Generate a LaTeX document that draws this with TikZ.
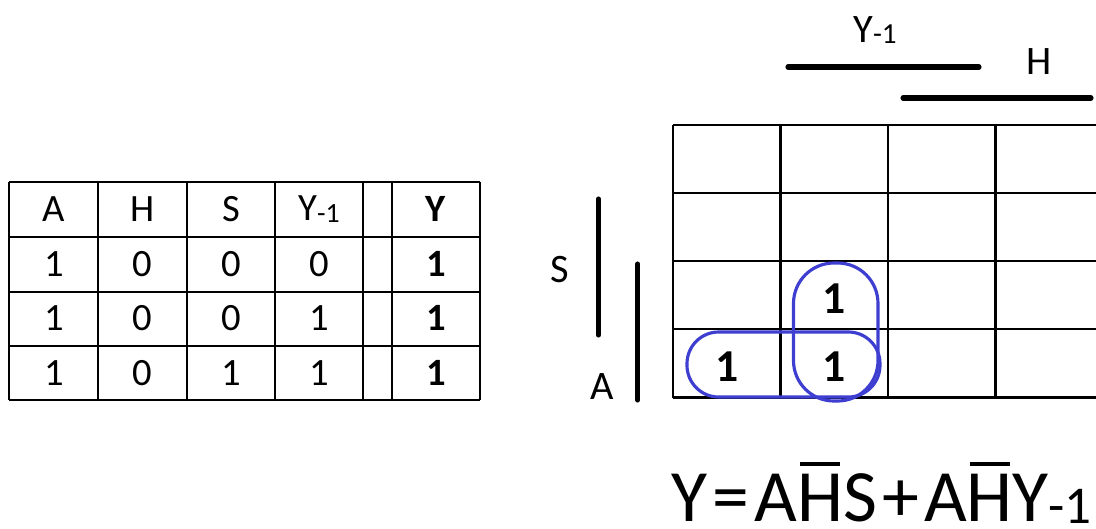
\documentclass[tikz,border=0pt]{standalone}
\usepackage{graphicx}
\usepackage{fontspec}
\setmainfont{Carlito}
\usetikzlibrary{positioning}
\definecolor{loopblue}{RGB}{62,62,208}
\newcommand{\lowsub}[1]{\raisebox{-0.04em}{\scalebox{0.72}{#1}}}
\newcommand{\ovbar}[1]{{\ooalign{\hfil\rule[0.745em]{0.54em}{0.055em}\hfil\cr #1\cr}}}
\newcommand{\opsp}[1]{\kern0.07em#1\kern0.07em}
\tikzset{
  cell/.style={font=\fontsize{22}{26}\selectfont,inner sep=0pt},
  one/.style={font=\fontsize{26}{30}\selectfont\bfseries,inner sep=0pt},
  lab/.style={font=\fontsize{23}{27}\selectfont,inner sep=0pt},
  rule/.style={line width=1.3pt},
  bar/.style={line width=2.9pt,line cap=round},
  kloop/.style={draw=loopblue,line width=1.8pt}
}

\begin{document}
\begin{tikzpicture}[x=0.02cm,y=-0.02cm]
    \useasboundingbox (0,0) rectangle (1096,528);

    % truth table
    \foreach \y in {181.7,236.7,291.7,345.7,400}
        \draw[rule] (9.3,\y) -- (480.3,\y);
    \foreach \x in {9.3,98.3,186.7,275.3,362.7,391.7,480.3}
        \draw[rule] (\x,181.7) -- (\x,400);

    \node[cell] (hA) at (53.8,209) {A};
    \node[cell] (hH) at (142.5,209) {H};
    \node[cell] (hS) at (231,209) {S};
    \node[cell] (hY1) at (319,209) {Y\lowsub{-1}};
    \node[cell] (hY) at (436,209) {\bfseries Y};

    \foreach \a/\h/\s/\p/\yv [count=\r] in {1/0/0/0/1,1/0/0/1/1,1/0/1/1/1} {
        \node[cell] (a\r) at (53.8,209+54.6*\r) {\a};
        \node[cell] (h\r) at (142.5,209+54.6*\r) {\h};
        \node[cell] (s\r) at (231,209+54.6*\r) {\s};
        \node[cell] (p\r) at (319,209+54.6*\r) {\p};
        \node[cell] (y\r) at (436,209+54.6*\r) {\bfseries\yv};
    }

    % karnaugh map
    \foreach \x in {673,780.5,888,995.5}
        \draw[rule] (\x,125) -- (\x,397.5);
    \foreach \y in {125,193,261,329,397.5}
        \draw[rule] (673,\y) -- (1096,\y);

    \coordinate (y1l) at (788,67);
    \coordinate (y1r) at (979,67);
    \coordinate (hl) at (903,98);
    \coordinate (hr) at (1091,98);
    \coordinate (st) at (598.5,199);
    \coordinate (sb) at (598.5,335);
    \coordinate (at) at (637.7,264);
    \coordinate (ab) at (637.7,400);
    \draw[bar] (y1l) -- (y1r);
    \draw[bar] (hl) -- (hr);
    \draw[bar] (st) -- (sb);
    \draw[bar] (at) -- (ab);

    \node[lab] (lY1) at (875,30) {Y\lowsub{-1}};
    \node[lab] (lH) at (1039,62) {H};
    \node[lab] (lS) at (560,270) {S};
    \node[lab] (lA) at (602,387) {A};

    \node[one] (m32) at (834,299) {1};
    \node[one] (m41) at (727,367) {1};
    \node[one] (m42) at (834,367) {1};

    \draw[kloop,rounded corners=23pt] (793.5,263) rectangle (878,401);
    \draw[kloop,rounded corners=18pt] (687,332) rectangle (880,397);

    % result
    \node[anchor=base west,inner sep=0pt,font=\fontsize{42}{48}\selectfont] (eq) at (671,521)
        {Y\opsp{=}A\ovbar{H}S\opsp{+}A\ovbar{H}Y\lowsub{-1}};
\end{tikzpicture}
\end{document}
